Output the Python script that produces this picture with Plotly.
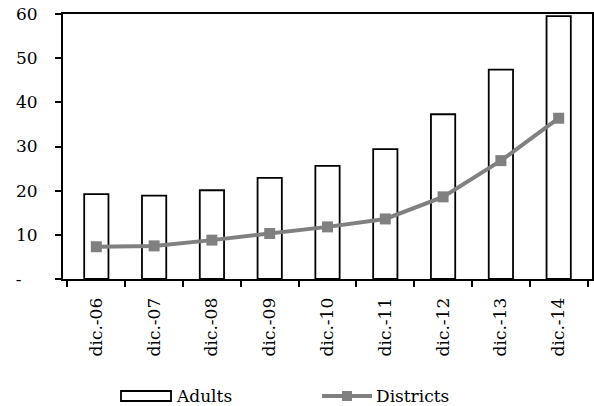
import plotly.graph_objects as go

# Year-end figures
categories = ["dic.-06", "dic.-07", "dic.-08", "dic.-09", "dic.-10",
              "dic.-11", "dic.-12", "dic.-13", "dic.-14"]
adults = [19.2, 18.9, 20.1, 22.9, 25.6, 29.4, 37.3, 47.4, 59.5]
districts = [7.3, 7.5, 8.8, 10.3, 11.8, 13.6, 18.6, 26.8, 36.4]

y_tickvals = [0, 10, 20, 30, 40, 50, 60]
y_ticktext = ["-\u00a0\u00a0\u00a0", "10", "20", "30", "40", "50", "60"]

FONT = "DejaVu Serif"
GREY = "#808080"
W, H = 594, 406
L, R, T, B = 63, 2, 14, 127


def px_x(px):
    return (px - L) / (W - L - R)


def px_y(py):
    return (H - B - py) / (H - T - B)


fig = go.Figure()
fig.add_trace(go.Bar(
    x=categories, y=adults, name="Adults",
    marker=dict(color="white", line=dict(color="black", width=1.8)),
    width=0.42, showlegend=False,
))
fig.add_trace(go.Scatter(
    x=categories, y=districts, name="Districts", mode="lines+markers",
    line=dict(color=GREY, width=4),
    marker=dict(symbol="square", size=11, color=GREY),
    showlegend=False,
))

# Legend drawn below the axis: box key for bars, line+square key for the series
shapes = [
    dict(type="rect", xref="paper", yref="paper",
         x0=px_x(121), x1=px_x(171), y0=px_y(401), y1=px_y(391),
         line=dict(color="black", width=1.8), fillcolor="white"),
    dict(type="line", xref="paper", yref="paper",
         x0=px_x(322), x1=px_x(372), y0=px_y(396), y1=px_y(396),
         line=dict(color=GREY, width=4)),
    dict(type="rect", xref="paper", yref="paper",
         x0=px_x(342), x1=px_x(352), y0=px_y(401), y1=px_y(391),
         line=dict(width=0), fillcolor=GREY),
]
annotations = [
    dict(text="Adults", xref="paper", yref="paper", x=px_x(174), y=px_y(396),
         xanchor="left", yanchor="middle", showarrow=False,
         font=dict(family=FONT, size=17, color="black")),
    dict(text="Districts", xref="paper", yref="paper", x=px_x(374), y=px_y(396),
         xanchor="left", yanchor="middle", showarrow=False,
         font=dict(family=FONT, size=17, color="black")),
]

fig.update_layout(
    width=W, height=H,
    margin=dict(l=L, r=R, t=T, b=B),
    paper_bgcolor="white", plot_bgcolor="white",
    font=dict(family=FONT, size=17, color="black"),
    showlegend=False,
    shapes=shapes, annotations=annotations,
)
fig.update_xaxes(
    type="category", tickson="boundaries", ticks="outside", ticklen=6,
    tickwidth=1.5, tickcolor="black", tickangle=-90,
    showline=True, linecolor="black", linewidth=2, mirror=True,
    showgrid=False, automargin=False, ticklabelstandoff=10,
    tickfont=dict(family=FONT, size=17),
)
fig.update_yaxes(
    range=[0, 60], tickvals=y_tickvals, ticktext=y_ticktext,
    ticks="outside", ticklen=6, tickwidth=1.5, tickcolor="black",
    showline=True, linecolor="black", linewidth=2, mirror=True,
    showgrid=False, zeroline=False, automargin=False, ticklabelstandoff=14,
    tickfont=dict(family=FONT, size=17),
)

fig.write_html("out.html")
